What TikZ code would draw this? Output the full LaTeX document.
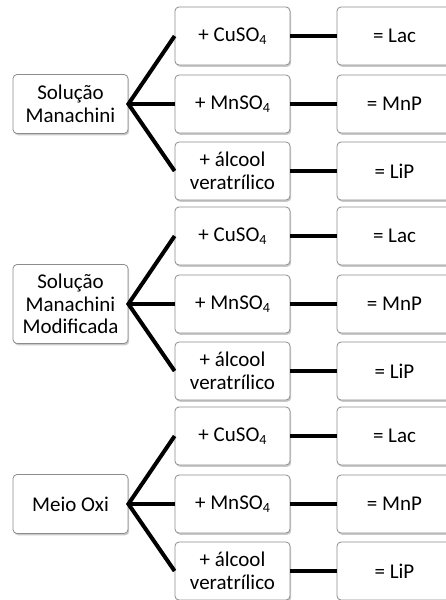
\documentclass[tikz,border=0pt]{standalone}
\usepackage{fontspec}
\setmainfont{Carlito}
\usetikzlibrary{shadows}
\newcommand{\subfour}{\raisebox{-0.3ex}{\fontsize{14}{14}\selectfont 4}}
\begin{document}
\begin{tikzpicture}[x=1pt,y=-1pt,
  box/.style={draw=black!45, line width=0.8pt, fill=white, rounded corners=4pt,
    minimum width=115pt, minimum height=58pt, align=center, inner sep=2pt,
    font=\fontsize{21}{22.7}\selectfont,
    drop shadow={shadow xshift=1.2pt, shadow yshift=-1.8pt, opacity=0.35, fill=black!60}},
  link/.style={line width=4pt}]
\useasboundingbox (0,0) rectangle (445,600);
\foreach \g/\cy/\name/\h in {1/104/{Solução\\Manachini}/59, 2/304/{Solução\\Manachini\\Modificada}/79, 3/504/{Meio Oxi}/59}{
  \node[box, minimum height=\h pt] (L\g) at (70.5,\cy) {\name};
  \node[box] (A\g) at (232.5,\cy-68) {+ CuSO\subfour};
  \node[box] (B\g) at (232.5,\cy) {+ MnSO\subfour};
  \node[box] (C\g) at (232.5,\cy+67) {+ álcool\\veratrílico};
  \node[box] (RA\g) at (394.5,\cy-68) {= Lac};
  \node[box] (RB\g) at (394.5,\cy) {= MnP};
  \node[box] (RC\g) at (394.5,\cy+67) {= LiP};
  \draw[link] (A\g.east) -- (RA\g.west);
  \draw[link] (B\g.east) -- (RB\g.west);
  \draw[link] (C\g.east) -- (RC\g.west);
  \draw[link, line join=miter] (A\g.west) -- (L\g.east) -- (C\g.west);
  \draw[link] (L\g.east) -- (B\g.west);
}
\end{tikzpicture}
\end{document}
